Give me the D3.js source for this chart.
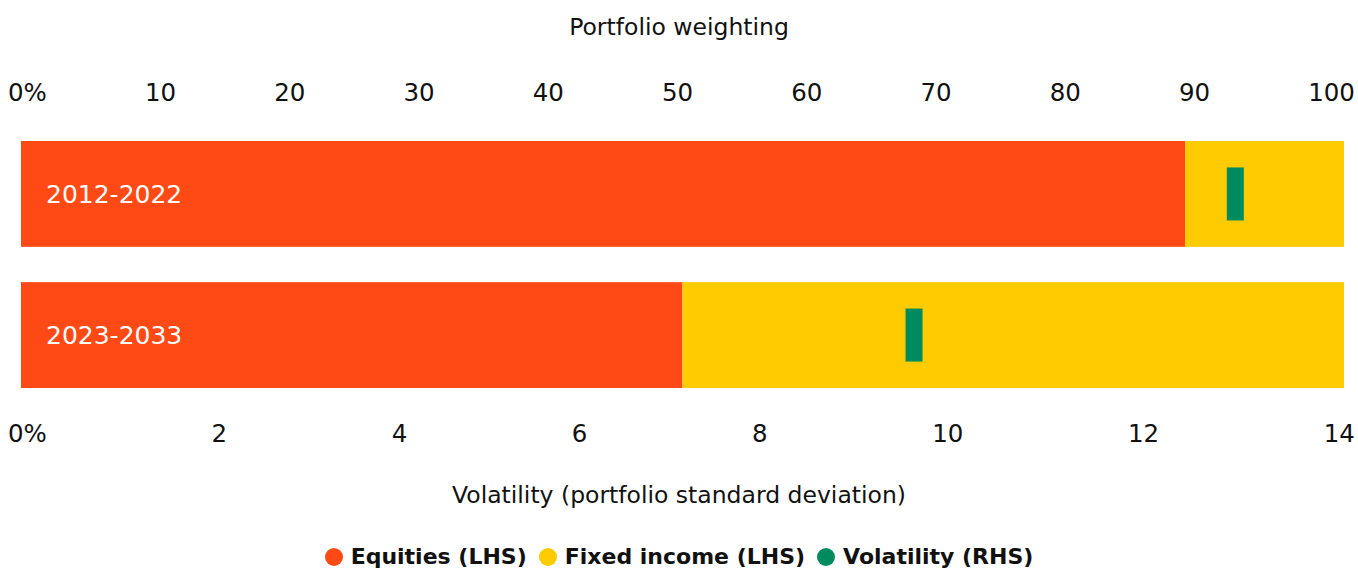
<!DOCTYPE html>
<html><head><meta charset="utf-8">
<script src="https://cdn.jsdelivr.net/npm/d3@7"></script>
<style>
body{margin:0;background:#fff;font-family:"DejaVu Sans","Noto Sans",sans-serif;color:#111;}
#wrap{position:relative;width:1358px;height:570px;overflow:hidden;}
svg{position:absolute;left:0;top:0;}
.title{position:absolute;left:0;width:1358px;text-align:center;font-size:23.5px;line-height:1;}
.ticks{position:absolute;left:8px;width:1347px;display:flex;justify-content:space-between;font-size:24.5px;line-height:1;}
.legend{position:absolute;left:0;width:1358px;top:546px;display:flex;justify-content:center;align-items:center;font-size:22px;font-weight:bold;line-height:1;}
.legend .item{display:flex;align-items:center;margin:0 6px;}
.legend .dot{width:18px;height:18px;border-radius:50%;margin-right:8px;}
</style></head>
<body><div id="wrap"></div>
<script>
const periods = ["2012-2022", "2023-2033"];
const equities = [88, 50];
const fixedIncome = [12, 50];
const volatility = [12.85, 9.45];
const weightTicks = ["0%", "10", "20", "30", "40", "50", "60", "70", "80", "90", "100"];
const volTicks = ["0%", "2", "4", "6", "8", "10", "12", "14"];
const seriesNames = ["Equities (LHS)", "Fixed income (LHS)", "Volatility (RHS)"];
const colors = ["#ff4a15", "#fdcb00", "#008b5e"];

const W = 1358, H = 570;
const wrap = d3.select("#wrap");

wrap.append("div").attr("class","title").style("top","16px").text("Portfolio weighting");
wrap.append("div").attr("class","ticks").style("top","81px")
  .selectAll("span").data(weightTicks).join("span").text(d=>d);
wrap.append("div").attr("class","ticks").style("top","422px")
  .selectAll("span").data(volTicks).join("span").text(d=>d);
wrap.append("div").attr("class","title").style("top","484px").text("Volatility (portfolio standard deviation)");

const svg = wrap.append("svg").attr("width",W).attr("height",H);
const x = d3.scaleLinear().domain([0,100]).range([21,1344]);
const xv = d3.scaleLinear().domain([0,14]).range([21,1344]);
const y = d3.scaleBand().domain(periods).range([141,388]).paddingInner(0.25);

const rows = periods.map((p,i)=>({p, eq:equities[i], fi:fixedIncome[i], v:volatility[i]}));
const g = svg.selectAll("g.row").data(rows).join("g").attr("class","row");
g.append("rect").attr("x",d=>x(0)).attr("y",d=>y(d.p)).attr("width",d=>x(d.eq)-x(0)).attr("height",y.bandwidth()).attr("fill",colors[0]);
g.append("rect").attr("x",d=>x(d.eq)).attr("y",d=>y(d.p)).attr("width",d=>x(d.eq+d.fi)-x(d.eq)).attr("height",y.bandwidth()).attr("fill",colors[1]);
g.append("rect").attr("x",d=>xv(d.v)-8.5).attr("y",d=>y(d.p)+y.bandwidth()/2-26.5).attr("width",17).attr("height",53).attr("fill",colors[2]);
g.append("text").attr("x",x(0)+25).attr("y",d=>y(d.p)+y.bandwidth()/2).attr("dy","0.35em")
  .attr("fill","#fff").style("font-size","25px").text(d=>d.p);

const leg = wrap.append("div").attr("class","legend");
const it = leg.selectAll("div.item").data(seriesNames).join("div").attr("class","item");
it.append("div").attr("class","dot").style("background",(d,i)=>colors[i]);
it.append("span").text(d=>d);
</script></body></html>
